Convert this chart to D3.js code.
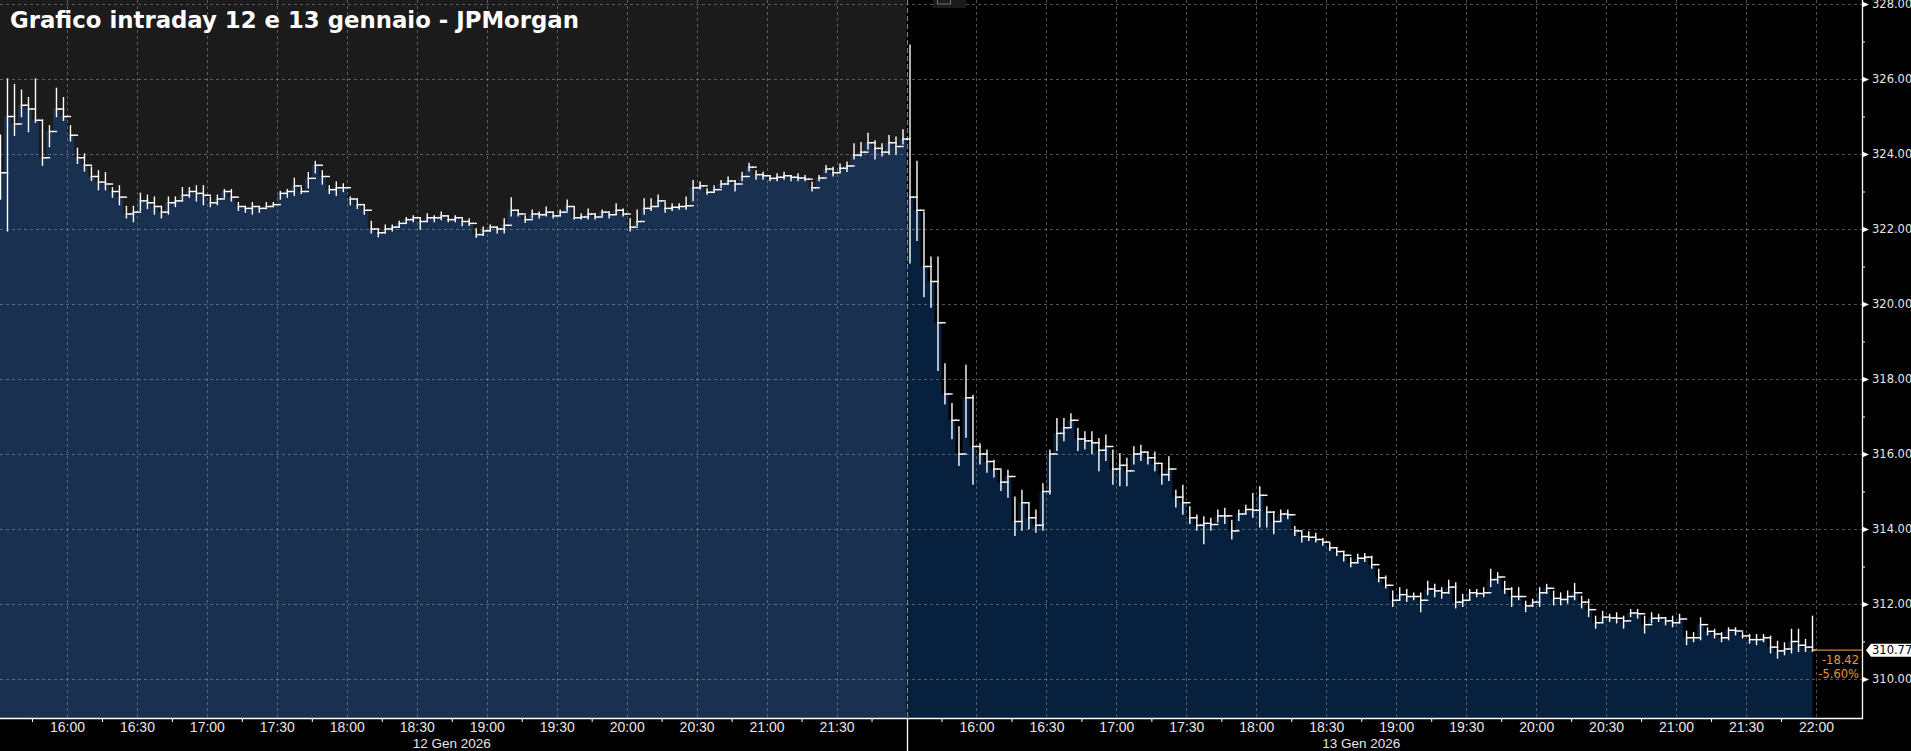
<!DOCTYPE html>
<html><head><meta charset="utf-8">
<script src="https://cdn.jsdelivr.net/npm/d3@7"></script>
<style>html,body{margin:0;padding:0;background:#000;overflow:hidden}</style>
</head><body>
<svg id="c" width="1911" height="751"></svg>
<script>
// ---------- DATA (3-minute bars) ----------
const title = "Grafico intraday 12 e 13 gennaio - JPMorgan";
const dateLabels = ["12 Gen 2026", "13 Gen 2026"];

const day1Close = [323.5,325.0,324.8,325.3,325.2,324.9,323.9,324.6,325.2,325.0,324.5,323.9,323.7,323.4,323.25,323.2,323.0,322.85,322.4,322.45,
322.75,322.7,322.6,322.45,322.7,322.75,322.9,323.0,322.95,322.9,322.7,322.8,323.0,322.85,322.6,322.55,322.6,322.55,322.6,322.65,
322.95,323.0,323.15,323.0,323.35,323.7,323.4,323.05,323.1,323.1,322.8,322.65,322.5,322.0,321.9,322.0,322.05,322.15,322.25,322.3,
322.2,322.3,322.3,322.35,322.25,322.3,322.2,322.15,321.85,321.95,322.05,322.0,322.1,322.5,322.4,322.25,322.4,322.38,322.45,322.35,
322.45,322.6,322.3,322.32,322.4,322.32,322.45,322.38,322.5,322.4,322.05,322.2,322.55,322.6,322.75,322.55,322.58,322.6,322.62,323.1,
323.15,322.98,323.05,323.2,323.28,323.2,323.4,323.65,323.45,323.42,323.35,323.38,323.42,323.38,323.36,323.33,323.1,323.36,323.6,323.5,
323.62,323.68,323.97,324.05,324.3,324.15,324.05,324.3,324.2,324.4];
const day1High = [324.5,326.0,325.85,325.7,325.5,326.0,324.9,324.75,325.75,325.5,324.75,324.15,324.0,323.65,323.55,323.5,323.1,323.15,322.6,322.6,
322.95,322.9,322.85,322.6,322.85,322.85,323.1,323.1,323.15,323.15,322.85,322.9,323.05,323.05,322.7,322.6,322.7,322.6,322.7,322.7,
323.0,323.05,323.35,323.1,323.5,323.8,323.55,323.15,323.25,323.2,322.85,322.8,322.65,322.2,322.0,322.1,322.1,322.2,322.3,322.35,
322.3,322.4,322.35,322.45,322.35,322.35,322.27,322.27,322.0,322.05,322.1,322.05,322.27,322.83,322.5,322.35,322.5,322.45,322.58,322.45,
322.5,322.77,322.58,322.4,322.53,322.4,322.5,322.45,322.67,322.53,322.27,322.5,322.8,322.8,322.9,322.71,322.67,322.67,322.85,323.29,
323.25,323.07,323.15,323.29,323.38,323.29,323.51,323.75,323.55,323.51,323.42,323.47,323.51,323.42,323.47,323.42,323.24,323.42,323.69,323.64,
323.73,323.78,324.27,324.3,324.55,324.35,324.27,324.49,324.45,324.64];
const day1Low = [322.8,321.95,324.5,325.0,324.6,324.85,323.7,324.2,325.0,324.9,324.35,323.75,323.55,323.3,323.05,323.05,322.85,322.65,322.3,322.2,
322.5,322.55,322.4,322.3,322.4,322.6,322.75,322.85,322.75,322.65,322.6,322.65,322.85,322.75,322.5,322.45,322.4,322.45,322.55,322.6,
322.8,322.85,322.9,322.95,323.1,323.5,323.2,322.95,322.9,323.0,322.65,322.55,322.4,321.9,321.8,321.9,321.95,322.05,322.15,322.2,
322.0,322.2,322.2,322.25,322.2,322.2,322.09,322.1,321.78,321.83,321.95,321.9,321.9,322.35,322.35,322.18,322.3,322.3,322.35,322.3,
322.35,322.5,322.27,322.27,322.27,322.27,322.35,322.3,322.4,322.35,321.95,322.1,322.4,322.5,322.62,322.45,322.5,322.53,322.53,322.76,
323.07,322.93,322.98,323.11,323.2,323.02,323.29,323.55,323.33,323.33,323.29,323.29,323.33,323.29,323.29,323.29,323.02,323.29,323.51,323.42,
323.51,323.54,323.87,323.95,324.13,323.87,323.95,324.0,324.0,324.27];

const day2Close = [322.85,322.5,321.0,320.6,319.5,317.6,316.9,316.0,317.5,316.2,316.0,315.8,315.6,315.25,315.4,314.2,314.7,314.3,314.1,315.0,
316.0,316.55,316.7,316.9,316.4,316.35,316.3,316.1,316.2,315.6,315.7,315.55,316.0,316.05,315.9,315.75,315.45,315.6,314.85,314.7,
314.3,314.1,314.15,314.12,314.35,314.35,313.95,314.4,314.52,314.5,314.9,314.45,314.2,314.4,314.38,313.95,313.8,313.78,313.72,313.65,
313.5,313.4,313.3,313.1,313.22,313.25,313.05,312.7,312.5,312.1,312.25,312.2,312.2,312.1,312.4,312.35,312.3,312.45,312.05,312.1,
312.3,312.28,312.3,312.65,312.72,312.4,312.2,312.2,311.95,312.05,312.3,312.42,312.15,312.12,312.2,312.3,312.05,311.85,311.5,311.65,
311.63,311.62,311.55,311.76,311.74,311.45,311.62,311.63,311.55,311.5,311.6,311.1,311.1,311.45,311.27,311.2,311.1,311.3,311.28,311.15,
311.05,311.05,311.1,310.85,310.75,310.8,311.0,310.9,310.85,310.77];
const day2High = [326.9,323.8,322.45,321.25,321.25,318.4,317.34,316.72,318.36,317.56,316.27,316.1,315.83,315.56,315.56,314.85,315.03,314.68,314.5,315.2,
316.1,316.94,316.94,317.07,316.68,316.59,316.59,316.41,316.5,316.1,316.01,315.88,316.19,316.23,316.05,316.05,315.74,315.92,315.03,315.16,
314.59,314.37,314.32,314.28,314.5,314.55,314.23,314.5,314.63,314.94,315.12,314.59,314.46,314.5,314.5,314.06,313.92,313.92,313.88,313.74,
313.61,313.5,313.4,313.23,313.32,313.34,313.27,312.92,312.74,312.34,312.43,312.38,312.29,312.29,312.6,312.52,312.43,312.63,312.56,312.25,
312.38,312.38,312.43,312.92,312.83,312.6,312.43,312.43,312.07,312.12,312.43,312.52,312.34,312.29,312.34,312.54,312.2,312.12,311.67,311.8,
311.72,311.76,311.67,311.85,311.85,311.67,311.76,311.72,311.63,311.67,311.72,311.27,311.23,311.63,311.36,311.32,311.23,311.36,311.36,311.23,
311.18,311.18,311.18,311.14,311.0,310.96,311.32,311.32,311.05,311.67];
const day2Low = [321.1,321.7,320.2,319.92,318.23,317.34,316.41,315.7,316.45,315.2,315.74,315.52,315.39,315.03,314.85,313.83,313.97,314.01,313.92,313.97,
314.94,316.1,316.36,316.72,316.1,316.14,316.01,315.56,315.83,315.2,315.16,315.16,315.74,315.83,315.74,315.56,315.2,315.3,314.59,314.4,
314.15,313.97,313.61,313.97,314.19,314.15,313.74,314.23,314.41,314.32,314.06,314.06,313.88,314.23,314.28,313.83,313.66,313.7,313.66,313.57,
313.43,313.3,313.15,313.0,313.1,313.14,312.96,312.6,312.43,311.94,312.12,312.07,312.12,311.8,312.25,312.2,312.16,312.29,311.9,311.94,
312.12,312.2,312.2,312.47,312.56,312.29,311.94,312.12,311.8,311.94,311.94,312.29,311.98,311.98,312.03,312.12,311.9,311.67,311.36,311.5,
311.54,311.5,311.36,311.67,311.63,311.23,311.5,311.54,311.45,311.4,311.5,310.92,311.0,311.05,311.18,311.1,311.0,311.05,311.18,311.1,
310.96,310.92,311.0,310.7,310.56,310.65,310.7,310.74,310.74,310.74];

// time axis (minutes of trading since 15:30 on day 1; 390 minutes per session)
const tickMinutes1 = [30,60,90,120,150,180,210,240,270,300,330,360];
const tickLabels1  = ["16:00","16:30","17:00","17:30","18:00","18:30","19:00","19:30","20:00","20:30","21:00","21:30"];
const tickMinutes2 = [420,450,480,510,540,570,600,630,660,690,720,750,780];
const tickLabels2  = ["16:00","16:30","17:00","17:30","18:00","18:30","19:00","19:30","20:00","20:30","21:00","21:30","22:00"];
const minorMinutes = [15,45,75,105,135,165,195,225,255,285,315,345,375,405,435,465,495,525,555,585,615,645,675,705,735,765];
const sessionMinutes = 390, barMinutes = 3;

const yMajor = [310,312,314,316,318,320,322,324,326,328];
const yMinor = [311,313,315,317,319,321,323,325,327];
const lastPrice = 310.77, changeAbs = "-18.42", changePct = "-5.60%";

// ---------- CHART ----------
const svg = d3.select("#c");
const W = 1911, H = 751, axisX = 1862, axisY = 718;
const x = d3.scaleLinear().domain([0, 2*sessionMinutes]).range([-3, 1816]);
const y = d3.scaleLinear().domain([310, 328]).range([679, 4]);

function makeBars(close, high, low, offset) {
  return close.map((c, i) => ({start: offset + i*barMinutes, c, h: high[i], l: low[i]}));
}
const bars1 = makeBars(day1Close, day1High, day1Low, 0);
const bars2 = makeBars(day2Close, day2High, day2Low, sessionMinutes);
const allBars = bars1.concat(bars2);

const xb = x(sessionMinutes);
// backgrounds
svg.append("rect").attr("x",0).attr("y",0).attr("width",W).attr("height",H).attr("fill","#000");
svg.append("rect").attr("x",0).attr("y",0).attr("width",xb).attr("height",axisY).attr("fill","#1b1b1b");

// areas
const area = d3.area().curve(d3.curveStepAfter)
  .x(d => x(d.start)).y0(axisY).y1(d => y(d.c));
function areaPts(b, end) { const last = b[b.length-1]; return b.concat([{start:end, c:last.c}]); }
svg.append("path").attr("d", area(areaPts(bars1, sessionMinutes))).attr("fill","#1a3050");
svg.append("path").attr("d", area(areaPts(bars2, 2*sessionMinutes - 1.5))).attr("fill","#07203d");

// gridlines
const grid = svg.append("g").attr("stroke","rgba(150,150,150,0.55)").attr("stroke-dasharray","3,3").attr("stroke-width",1);
yMajor.forEach(v => grid.append("line").attr("x1",0).attr("x2",axisX).attr("y1",Math.round(y(v))+0.5).attr("y2",Math.round(y(v))+0.5));
tickMinutes1.concat(tickMinutes2).forEach(m => grid.append("line").attr("x1",Math.round(x(m))+0.5).attr("x2",Math.round(x(m))+0.5).attr("y1",0).attr("y2",axisY));
// session divider
svg.append("line").attr("x1",Math.round(xb)+0.5).attr("x2",Math.round(xb)+0.5).attr("y1",0).attr("y2",axisY)
  .attr("stroke","#8a8a8a").attr("stroke-dasharray","5,3");

// small tab at top
svg.append("rect").attr("x",933).attr("y",0).attr("width",33).attr("height",8).attr("fill","#1a1a1a");
svg.append("rect").attr("x",937.5).attr("y",-3).attr("width",13).attr("height",7).attr("fill","none").attr("stroke","#777");

// OHLC bars
const bg = svg.append("g").attr("stroke","#fff").attr("stroke-width",1.4).attr("fill","none").attr("stroke-linecap","square");
allBars.forEach((b, i) => {
  const cx = x(b.start + barMinutes/2);
  const open = i === 0 ? b.c : allBars[i-1].c;
  bg.append("line").attr("x1",cx).attr("x2",cx).attr("y1",y(b.h)).attr("y2",y(b.l));
  bg.append("line").attr("x1",cx-3.3).attr("x2",cx).attr("y1",y(open)).attr("y2",y(open));
  bg.append("line").attr("x1",cx).attr("x2",cx+3.3).attr("y1",y(b.c)).attr("y2",y(b.c));
});

// last price orange line
const lastX = x(allBars[allBars.length-1].start + barMinutes/2);
svg.append("line").attr("x1",lastX).attr("x2",axisX).attr("y1",y(lastPrice)).attr("y2",y(lastPrice))
  .attr("stroke","#c98642").attr("stroke-width",1.2);

// bottom axis
const fontAxis = "'Liberation Sans', Arial, sans-serif";
const bottomAx = d3.axisBottom(x).tickValues(tickMinutes1.concat(tickMinutes2))
  .tickFormat((d) => { const i1 = tickMinutes1.indexOf(d); return i1 >= 0 ? tickLabels1[i1] : tickLabels2[tickMinutes2.indexOf(d)]; })
  .tickSize(0).tickPadding(4);
const gB = svg.append("g").attr("transform",`translate(0,${axisY})`).call(bottomAx);
gB.select(".domain").remove();
gB.selectAll("text").attr("fill","#e6e6e6").style("font-family",fontAxis).style("font-size","14px");
const minorAx = d3.axisBottom(x).tickValues(minorMinutes).tickSize(4).tickFormat("");
const gM = svg.append("g").attr("transform",`translate(0,${axisY})`).call(minorAx);
gM.select(".domain").remove();
gM.selectAll("line").attr("stroke","#fff");
svg.append("line").attr("x1",0).attr("x2",axisX+1).attr("y1",axisY+0.5).attr("y2",axisY+0.5).attr("stroke","#fff").attr("stroke-width",1.3);
svg.append("line").attr("x1",Math.round(xb)+0.5).attr("x2",Math.round(xb)+0.5).attr("y1",axisY).attr("y2",H).attr("stroke","#fff").attr("stroke-width",1.3);
// date labels
[[0, sessionMinutes],[sessionMinutes, 2*sessionMinutes]].forEach((r, i) => {
  svg.append("text").attr("x",(x(r[0])+x(r[1]))/2).attr("y",748).attr("text-anchor","middle")
    .attr("fill","#e6e6e6").style("font-family",fontAxis).style("font-size","13.5px").text(dateLabels[i]);
});

// right axis
const fontR = "'DejaVu Sans', Verdana, sans-serif";
const rightAx = d3.axisRight(y).tickValues(yMajor).tickFormat(d3.format(".2f")).tickSize(0).tickPadding(10);
const gR = svg.append("g").attr("transform",`translate(${axisX},0)`).call(rightAx);
gR.select(".domain").remove();
gR.selectAll("text").attr("fill","#e6e6e6").style("font-family",fontR).style("font-size","11.5px");
gR.selectAll(".tick").append("path").attr("d","M0,-3L7,0L0,3Z").attr("fill","#fff");
const rightMinor = d3.axisRight(y).tickValues(yMinor).tickSize(3).tickFormat("");
const gRm = svg.append("g").attr("transform",`translate(${axisX},0)`).call(rightMinor);
gRm.select(".domain").remove();
gRm.selectAll("line").attr("stroke","#fff");
svg.append("line").attr("x1",axisX+0.5).attr("x2",axisX+0.5).attr("y1",0).attr("y2",axisY+1).attr("stroke","#fff").attr("stroke-width",1.3);

// last price tag
const ly = y(lastPrice);
svg.append("path").attr("d",`M${axisX+4},${ly}L${axisX+9},${ly-6.5}L${W},${ly-6.5}L${W},${ly+6.5}L${axisX+9},${ly+6.5}Z`).attr("fill","#fff");
svg.append("text").attr("x",axisX+10).attr("y",ly+4).attr("fill","#000").style("font-family",fontR).style("font-size","11.5px").text(lastPrice.toFixed(2));
svg.append("text").attr("x",axisX-3).attr("y",ly+14).attr("text-anchor","end").attr("fill","#e8953e").style("font-family",fontR).style("font-size","11.5px").text(changeAbs);
svg.append("text").attr("x",axisX-3).attr("y",ly+28).attr("text-anchor","end").attr("fill","#e8953e").style("font-family",fontR).style("font-size","11.5px").text(changePct);

// title
svg.append("text").attr("x",10).attr("y",28).attr("fill","#fff")
  .style("font-family","'DejaVu Sans', Verdana, sans-serif").style("font-weight","bold").style("font-size","22.5px")
  .attr("textLength",569).attr("lengthAdjust","spacingAndGlyphs").text(title);
</script>
</body></html>
